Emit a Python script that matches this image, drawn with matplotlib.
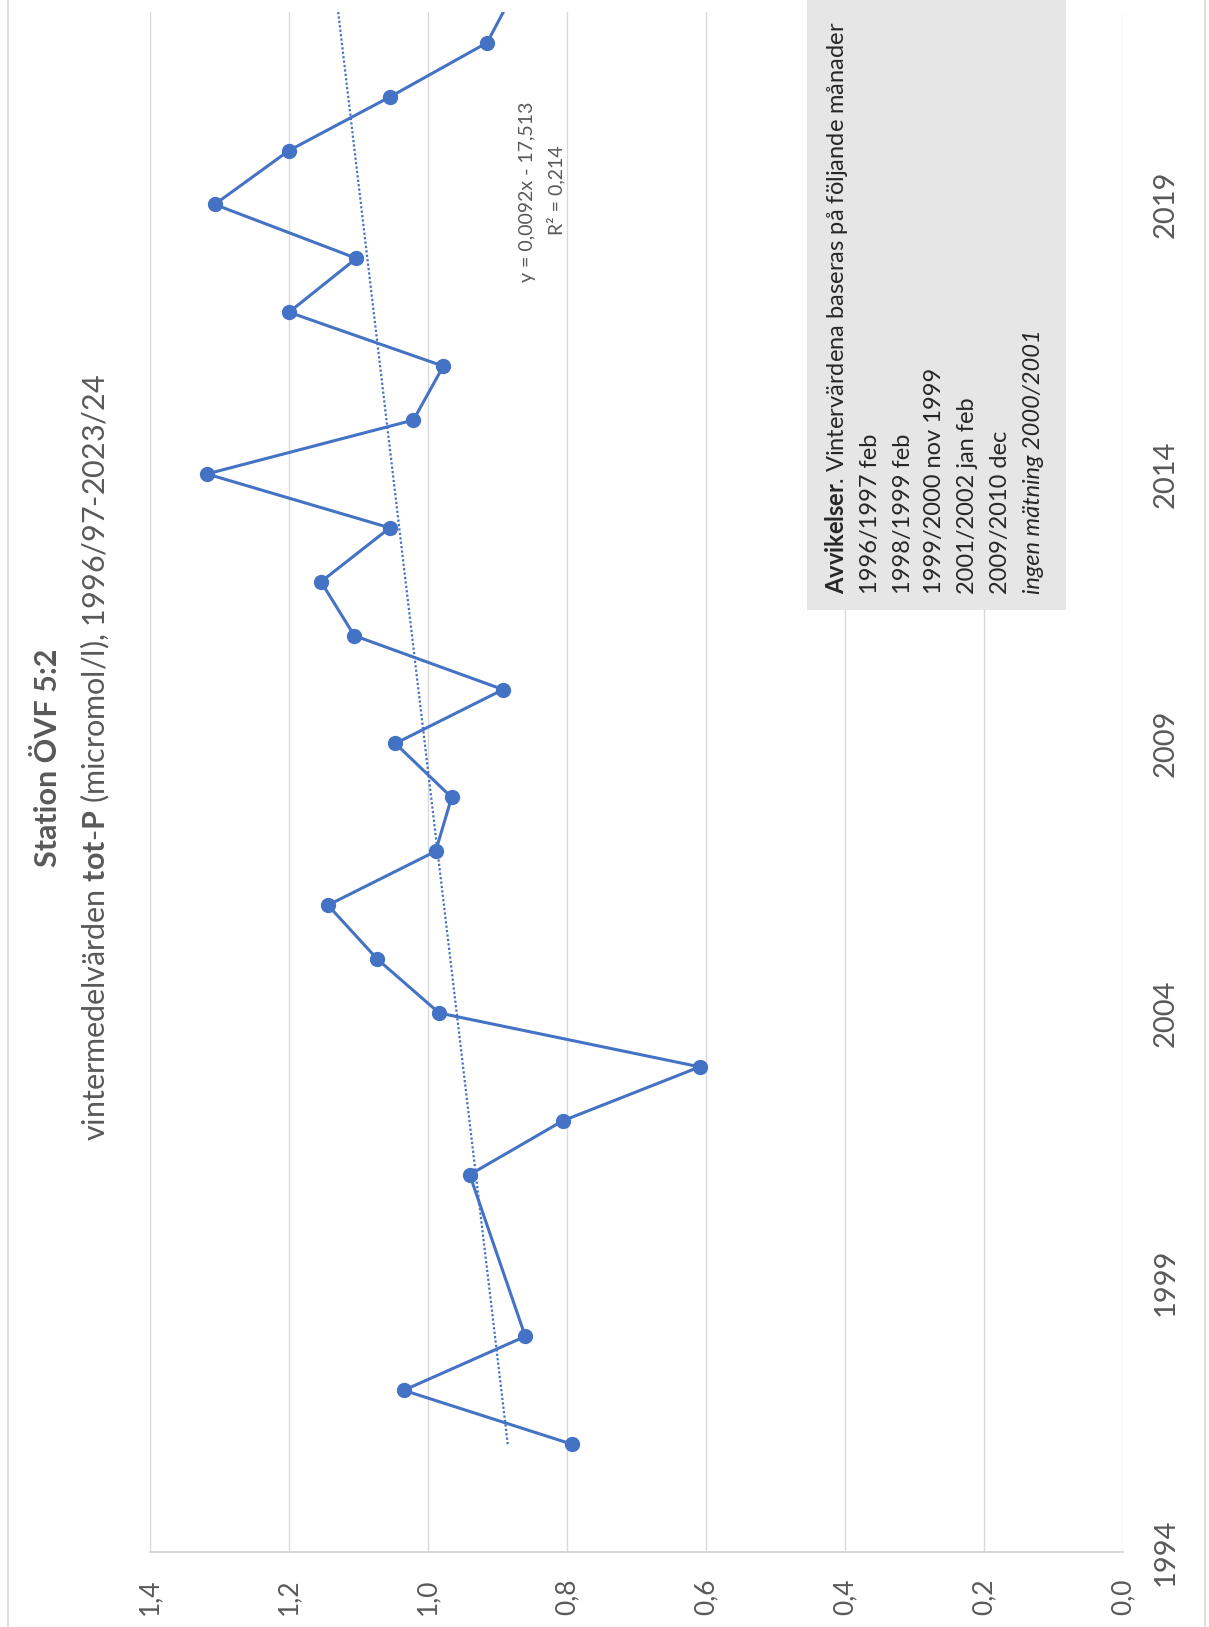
import numpy as np
import matplotlib
matplotlib.use("Agg")
import matplotlib.pyplot as plt
from matplotlib.patches import Rectangle
from matplotlib.lines import Line2D

plt.rcParams['font.family'] = ['Lato', 'DejaVu Sans']
plt.rcParams['mathtext.fontset'] = 'custom'
plt.rcParams['mathtext.rm'] = 'Lato'
plt.rcParams['mathtext.bf'] = 'Lato:bold'
plt.rcParams['mathtext.it'] = 'Lato:italic'

# --- data: vintermedelvärden tot-P (micromol/l), vinterns startår ---
vintrar = [1996, 1997, 1998, 2001, 2002, 2003, 2004, 2005, 2006, 2007,
           2008, 2009, 2010, 2011, 2012, 2013, 2014, 2015, 2016, 2017,
           2018, 2019, 2020, 2021, 2022, 2023]
totp = [0.793, 1.035, 0.860, 0.940, 0.806, 0.609, 0.984, 1.073, 1.144, 0.989,
        0.966, 1.047, 0.892, 1.106, 1.154, 1.055, 1.318, 1.021, 0.978, 1.200,
        1.103, 1.307, 1.200, 1.054, 0.915, 0.874]

ar_ticks = [1994, 1999, 2004, 2009, 2014, 2019]
varde_ticks = [0.0, 0.2, 0.4, 0.6, 0.8, 1.0, 1.2, 1.4]
varde_etiketter = ['0,0', '0,2', '0,4', '0,6', '0,8', '1,0', '1,2', '1,4']

titel = 'Station ÖVF 5:2'
undertitel = 'vintermedelvärden $\\mathbf{tot}$-$\\mathbf{P}$ (micromol/l), 1996/97-2023/24'
ekvation = 'y = 0,0092x - 17,513'
r2_text = 'R² = 0,214'
avvikelser = ['$\\mathbf{Avvikelser}$. Vintervärdena baseras på följande månader',
              '1996/1997 feb', '1998/1999 feb', '1999/2000 nov 1999',
              '2001/2002 jan feb', '2009/2010 dec']
ingen_matning = 'ingen mätning 2000/2001'

BLA = '#4472C4'
GRA = '#595959'

W, H = 1209, 1627
fig = plt.figure(figsize=(W / 100, H / 100), dpi=100)

# bilden är roterad 90 grader: värden horisontellt (1,4 till vänster), år vertikalt
ax = fig.add_axes([150 / W, (H - 1552) / H, 973 / W, 1540 / H])
ax.set_xlim(1.4, 0.0)
ax.set_ylim(1994, 2022.57)

ax.plot(totp, vintrar, '-o', color=BLA, lw=2.2, ms=10, zorder=3)

# linjär trendlinje
k, m = np.polyfit(vintrar, totp, 1)
trend_x = np.array([vintrar[0], vintrar[-1]])
ax.plot(k * trend_x + m, trend_x, color=BLA, lw=1.6, ls=(0, (1, 1)), zorder=2)

ax.set_xticks(varde_ticks)
ax.set_xticklabels(varde_etiketter, rotation=90, fontsize=19, color=GRA)
ax.set_yticks(ar_ticks)
ax.yaxis.tick_right()
ax.set_yticklabels([str(a) for a in ar_ticks], rotation=90, va='center', fontsize=21, color=GRA)
ax.tick_params(axis='x', length=0, pad=19)
ax.tick_params(axis='y', length=0, pad=21)

ax.grid(axis='x', color='#d9d9d9', lw=1.0)
ax.set_axisbelow(True)
for s in ['top', 'left', 'right']:
    ax.spines[s].set_visible(False)
ax.spines['bottom'].set_color('#d0d0d0')
ax.spines['bottom'].set_linewidth(1.2)

# rubriker
fig.text(48 / W, 1 - 758 / H, titel, rotation=90, ha='center', va='center',
         fontsize=22, fontweight='bold', color=GRA)
fig.text(95 / W, 1 - 757 / H, undertitel, rotation=90, ha='center', va='center',
         fontsize=22, color=GRA)

# trendlinjens ekvation
fig.text(528 / W, 1 - 192 / H, ekvation, rotation=90, ha='center', va='center',
         fontsize=14, color=GRA)
fig.text(556 / W, 1 - 190 / H, r2_text, rotation=90, ha='center', va='center',
         fontsize=14, color=GRA)

# grå textruta
fig.add_artist(Rectangle((807 / W, 1 - 610 / H), 259 / W, 610 / H,
                         transform=fig.transFigure, facecolor='#e6e6e6',
                         edgecolor='none', zorder=1))
rad_x = [837, 871, 903, 934, 967, 1000]
for x, rad in zip(rad_x, avvikelser):
    fig.text(x / W, 1 - 594 / H, rad, rotation=90, rotation_mode='anchor',
             ha='left', va='center', fontsize=17, color='#262626', zorder=2)
fig.text(1033 / W, 1 - 594 / H, ingen_matning, rotation=90, rotation_mode='anchor',
         ha='left', va='center', fontsize=17, style='italic', color='#262626', zorder=2)

# diagramramen
for x in [8, 1205]:
    fig.add_artist(Line2D([x / W, x / W], [0, 1], transform=fig.transFigure,
                          color='#d9d9d9', lw=1.2))

fig.savefig('out.png', dpi=100)
